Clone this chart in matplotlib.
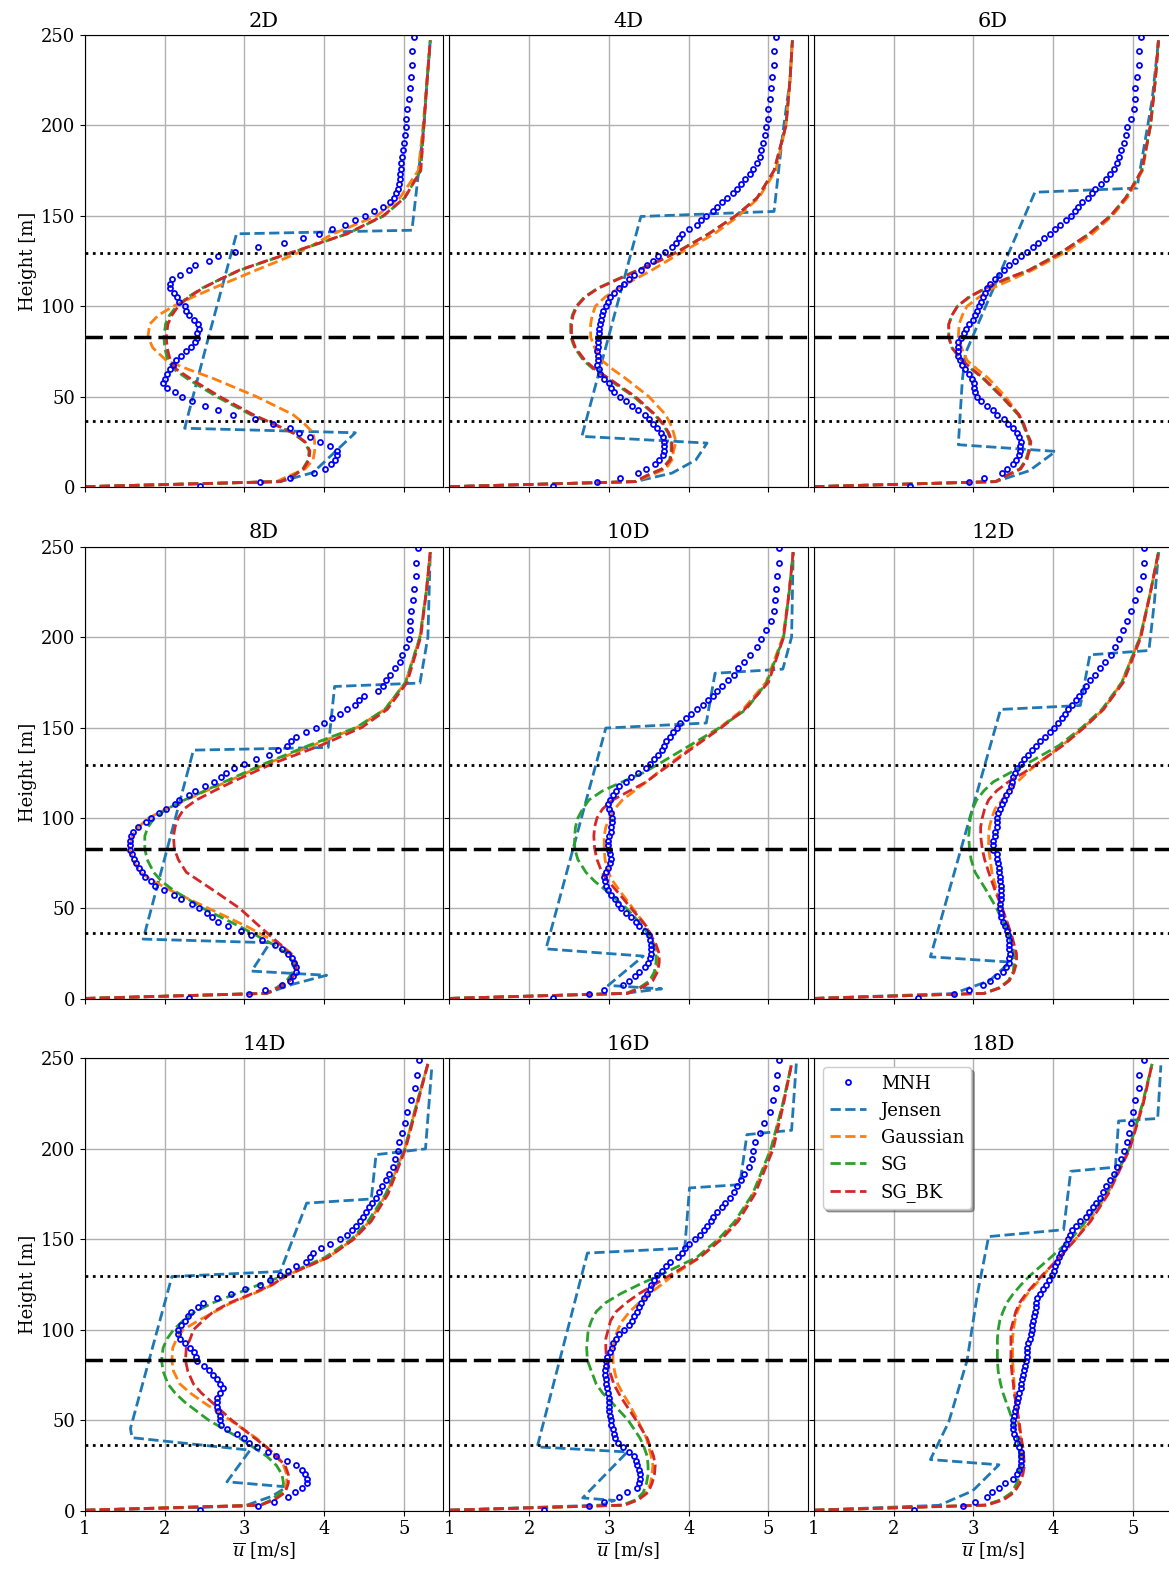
import matplotlib

matplotlib.use("Agg")

import matplotlib.pyplot as plt

plt.rcParams["font.family"] = "DejaVu Serif"
plt.rcParams["mathtext.fontset"] = "dejavuserif"

HUB_HEIGHT = 83.0
ROTOR_BOTTOM = 36.5
ROTOR_TOP = 129.5

TITLES = ["2D", "4D", "6D", "8D", "10D", "12D", "14D", "16D", "18D"]

# heights of the MNH (LES) points
MNH_Z = [
    0.3, 2.5, 5.0, 7.5, 10.0, 12.5, 15.0, 17.5, 20.0, 22.5,
    25.0, 27.5, 30.0, 32.5, 35.0, 37.5, 40.0, 42.5, 45.0, 47.5,
    50.0, 52.5, 55.0, 57.5, 60.0, 62.5, 65.0, 67.5, 70.0, 72.5,
    75.0, 77.5, 80.0, 82.5, 85.0, 87.5, 90.0, 92.5, 95.0, 97.5,
    100.0, 102.5, 105.0, 107.5, 110.0, 112.5, 115.0, 117.5, 120.0, 122.5,
    125.0, 127.5, 130.0, 132.5, 135.0, 137.5, 140.0, 142.5, 145.0, 147.5,
    150.0, 152.5, 155.0, 157.5, 160.0, 162.5, 165.0, 167.6, 170.3, 173.1,
    176.1, 179.3, 182.7, 186.3, 190.2, 194.4, 198.9, 203.7, 208.9, 214.5,
    220.4, 226.8, 233.6, 241.0, 249.0,
]

# heights of the analytical model curves
MODEL_Z = [0.2, 3, 6, 10, 15, 20, 25, 30, 35, 40, 50, 60, 65, 70, 77, 83,
           90, 95, 100, 105, 110, 115, 120, 125, 130, 140, 150, 160, 175,
           200, 225, 247]

# ---- 2D
mnh_2d = [
    2.44, 3.20, 3.57, 3.87, 4.01, 4.09, 4.13, 4.16, 4.16, 4.07,
    3.95, 3.82, 3.69, 3.57, 3.36, 3.13, 2.86, 2.67, 2.50, 2.34,
    2.22, 2.13, 2.03, 1.98, 2.00, 2.03, 2.07, 2.10, 2.14, 2.21,
    2.27, 2.33, 2.38, 2.40, 2.41, 2.43, 2.42, 2.37, 2.30, 2.27,
    2.25, 2.18, 2.15, 2.11, 2.07, 2.07, 2.09, 2.19, 2.30, 2.38,
    2.55, 2.67, 2.88, 3.17, 3.49, 3.74, 3.93, 4.10, 4.26, 4.39,
    4.51, 4.62, 4.74, 4.82, 4.88, 4.90, 4.92, 4.94, 4.95, 4.95,
    4.96, 4.96, 4.97, 4.99, 5.00, 5.01, 5.02, 5.03, 5.04, 5.06,
    5.07, 5.09, 5.10, 5.10, 5.13,
]
gauss_2d = [1.0, 3.40, 3.55, 3.76, 3.86, 3.88, 3.88, 3.86, 3.75, 3.61, 3.15,
            2.61, 2.30, 2.02, 1.85, 1.79, 1.81, 1.92, 2.11, 2.35, 2.61, 2.88,
            3.15, 3.43, 3.70, 4.11, 4.66, 4.95, 5.18, 5.24, 5.29, 5.33]
sg_2d = [1.0, 3.45, 3.60, 3.73, 3.80, 3.81, 3.75, 3.60, 3.35, 3.08, 2.65,
         2.28, 2.12, 2.04, 2.00, 1.99, 2.01, 2.06, 2.15, 2.29, 2.47, 2.70,
         2.95, 3.28, 3.62, 4.29, 4.75, 5.01, 5.21, 5.25, 5.29, 5.33]
sgbk_2d = [1.0, 3.45, 3.61, 3.74, 3.81, 3.82, 3.76, 3.61, 3.36, 3.11, 2.69,
           2.32, 2.15, 2.07, 2.03, 2.02, 2.04, 2.09, 2.17, 2.30, 2.48, 2.70,
           2.94, 3.27, 3.61, 4.28, 4.74, 5.01, 5.21, 5.25, 5.29, 5.33]
jen_u_2d = [1.0, 3.45, 3.86, 4.39, 2.25, 2.55, 2.82, 2.90, 5.10, 5.18, 5.25, 5.29, 5.33]
jen_z_2d = [0.2, 3, 8, 30, 32.5, 83, 127, 140, 142, 173, 200, 225, 247]

# ---- 4D
mnh_4d = [
    2.30, 2.85, 3.14, 3.36, 3.47, 3.58, 3.63, 3.68, 3.69, 3.69,
    3.69, 3.68, 3.65, 3.60, 3.55, 3.50, 3.45, 3.37, 3.29, 3.21,
    3.14, 3.06, 3.03, 3.00, 2.94, 2.89, 2.87, 2.85, 2.86, 2.86,
    2.85, 2.86, 2.86, 2.86, 2.87, 2.88, 2.89, 2.90, 2.91, 2.93,
    2.96, 2.99, 3.01, 3.06, 3.13, 3.19, 3.25, 3.31, 3.40, 3.48,
    3.55, 3.62, 3.70, 3.79, 3.84, 3.88, 3.91, 4.00, 4.10, 4.15,
    4.22, 4.30, 4.36, 4.42, 4.48, 4.55, 4.60, 4.65, 4.71, 4.77,
    4.81, 4.86, 4.89, 4.91, 4.93, 4.96, 4.97, 4.99, 5.00, 5.02,
    5.03, 5.05, 5.07, 5.07, 5.09,
]
gauss_4d = [1.0, 3.33, 3.50, 3.71, 3.79, 3.81, 3.84, 3.81, 3.77, 3.71, 3.50,
            3.21, 3.05, 2.91, 2.82, 2.77, 2.77, 2.79, 2.83, 2.95, 3.12, 3.33,
            3.54, 3.73, 3.92, 4.32, 4.63, 4.88, 5.09, 5.22, 5.27, 5.30]
sg_4d = [1.0, 3.33, 3.46, 3.66, 3.76, 3.78, 3.78, 3.74, 3.67, 3.57, 3.31,
         2.98, 2.81, 2.68, 2.57, 2.52, 2.52, 2.54, 2.59, 2.69, 2.86, 3.11,
         3.36, 3.62, 3.85, 4.25, 4.59, 4.86, 5.07, 5.22, 5.27, 5.30]
sgbk_4d = [1.0, 3.33, 3.46, 3.67, 3.77, 3.79, 3.79, 3.75, 3.68, 3.58, 3.33,
           3.00, 2.83, 2.70, 2.58, 2.53, 2.53, 2.55, 2.60, 2.70, 2.87, 3.12,
           3.37, 3.63, 3.86, 4.25, 4.59, 4.86, 5.07, 5.22, 5.27, 5.30]
jen_u_4d = [1.0, 3.33, 3.79, 4.09, 4.23, 2.66, 3.40, 5.07, 5.18, 5.27, 5.30]
jen_z_4d = [0.2, 3, 7.7, 15, 24.3, 28, 149.6, 152.4, 195.7, 225, 247]

# ---- 6D
mnh_6d = [
    2.20, 2.94, 3.13, 3.36, 3.42, 3.49, 3.53, 3.57, 3.58, 3.58,
    3.59, 3.57, 3.54, 3.50, 3.43, 3.38, 3.30, 3.24, 3.17, 3.10,
    3.05, 3.02, 3.01, 3.01, 2.98, 2.94, 2.89, 2.85, 2.83, 2.81,
    2.80, 2.80, 2.81, 2.84, 2.88, 2.91, 2.95, 2.99, 3.02, 3.05,
    3.07, 3.10, 3.12, 3.14, 3.17, 3.21, 3.27, 3.32, 3.38, 3.45,
    3.52, 3.59, 3.67, 3.75, 3.81, 3.89, 3.96, 4.02, 4.09, 4.16,
    4.22, 4.27, 4.31, 4.36, 4.43, 4.49, 4.53, 4.60, 4.66, 4.71,
    4.76, 4.80, 4.82, 4.85, 4.89, 4.91, 4.93, 4.97, 5.01, 5.02,
    5.03, 5.05, 5.07, 5.08, 5.10,
]
gauss_6d = [1.0, 3.28, 3.40, 3.59, 3.65, 3.70, 3.70, 3.67, 3.62, 3.57, 3.40,
            3.19, 3.05, 2.92, 2.85, 2.81, 2.82, 2.86, 2.92, 3.07, 3.24, 3.49,
            3.74, 3.95, 4.16, 4.49, 4.74, 4.93, 5.12, 5.22, 5.28, 5.32]
sg_6d = [1.0, 3.28, 3.40, 3.58, 3.66, 3.69, 3.71, 3.66, 3.62, 3.56, 3.35,
         3.12, 2.98, 2.85, 2.73, 2.69, 2.69, 2.73, 2.80, 2.95, 3.16, 3.41,
         3.70, 3.91, 4.11, 4.45, 4.72, 4.91, 5.11, 5.22, 5.28, 5.32]
sgbk_6d = [1.0, 3.28, 3.40, 3.59, 3.67, 3.70, 3.72, 3.67, 3.63, 3.57, 3.36,
           3.13, 2.99, 2.86, 2.73, 2.69, 2.69, 2.73, 2.80, 2.94, 3.15, 3.40,
           3.70, 3.91, 4.11, 4.45, 4.72, 4.91, 5.11, 5.22, 5.28, 5.32]
jen_u_6d = [1.0, 3.28, 3.70, 4.03, 2.81, 2.86, 2.90, 3.77, 5.05, 5.24, 5.32]
jen_z_6d = [0.2, 3, 9, 19.7, 23.4, 59, 74, 163, 165.3, 214, 247]

# ---- 8D
mnh_8d = [
    2.30, 3.06, 3.26, 3.47, 3.57, 3.61, 3.65, 3.65, 3.62, 3.60,
    3.54, 3.47, 3.38, 3.22, 3.08, 2.96, 2.79, 2.67, 2.59, 2.53,
    2.43, 2.34, 2.21, 2.11, 1.99, 1.88, 1.83, 1.75, 1.71, 1.68,
    1.64, 1.61, 1.59, 1.56, 1.56, 1.56, 1.58, 1.60, 1.67, 1.76,
    1.83, 1.93, 2.02, 2.13, 2.18, 2.30, 2.38, 2.50, 2.62, 2.70,
    2.77, 2.87, 2.99, 3.15, 3.31, 3.42, 3.53, 3.58, 3.65, 3.77,
    3.90, 4.00, 4.10, 4.20, 4.28, 4.39, 4.44, 4.50, 4.68, 4.74,
    4.78, 4.82, 4.89, 4.95, 4.98, 5.03, 5.06, 5.08, 5.08, 5.09,
    5.11, 5.13, 5.15, 5.15, 5.17,
]
gauss_8d = [1.0, 3.28, 3.40, 3.55, 3.63, 3.63, 3.59, 3.45, 3.24, 3.03, 2.55,
            2.07, 1.86, 1.69, 1.60, 1.56, 1.59, 1.67, 1.80, 2.02, 2.27, 2.52,
            2.78, 3.03, 3.28, 3.85, 4.41, 4.76, 5.02, 5.20, 5.28, 5.33]
sg_8d = [1.0, 3.28, 3.40, 3.53, 3.61, 3.61, 3.53, 3.36, 3.15, 2.94, 2.48,
         2.11, 1.96, 1.86, 1.78, 1.75, 1.75, 1.79, 1.87, 2.03, 2.25, 2.50,
         2.75, 3.00, 3.25, 3.80, 4.40, 4.76, 5.02, 5.20, 5.28, 5.33]
sgbk_8d = [1.0, 3.28, 3.42, 3.57, 3.65, 3.65, 3.57, 3.45, 3.32, 3.19, 2.94,
           2.61, 2.44, 2.27, 2.17, 2.12, 2.11, 2.13, 2.17, 2.24, 2.40, 2.62,
           2.85, 3.10, 3.35, 3.95, 4.47, 4.79, 5.04, 5.21, 5.28, 5.33]
jen_u_8d = [1.0, 3.28, 3.60, 4.03, 3.09, 3.32, 1.73, 2.36, 4.05, 4.13, 5.20, 5.30, 5.33]
jen_z_8d = [0.2, 3, 8, 13, 15.3, 31, 33, 137.5, 139, 172.7, 174.6, 200, 247]

# ---- 10D
mnh_10d = [
    2.30, 2.75, 2.94, 3.17, 3.25, 3.33, 3.38, 3.45, 3.49, 3.52,
    3.53, 3.53, 3.53, 3.52, 3.50, 3.45, 3.38, 3.34, 3.28, 3.21,
    3.15, 3.11, 3.07, 3.03, 2.99, 2.96, 2.95, 2.94, 2.96, 2.99,
    3.01, 3.02, 3.01, 3.00, 2.99, 2.99, 3.00, 3.02, 3.03, 3.04,
    3.04, 3.03, 3.00, 2.99, 3.01, 3.05, 3.09, 3.13, 3.21, 3.28,
    3.36, 3.47, 3.52, 3.57, 3.62, 3.66, 3.69, 3.72, 3.76, 3.80,
    3.85, 3.89, 3.97, 4.03, 4.10, 4.18, 4.24, 4.30, 4.36, 4.42,
    4.49, 4.57, 4.62, 4.69, 4.77, 4.85, 4.91, 4.97, 5.03, 5.07,
    5.08, 5.09, 5.11, 5.13, 5.13,
]
gauss_10d = [1.0, 3.22, 3.38, 3.53, 3.59, 3.61, 3.61, 3.57, 3.52, 3.47, 3.30,
             3.13, 3.05, 2.99, 2.95, 2.94, 2.94, 2.96, 3.01, 3.07, 3.17, 3.32,
             3.47, 3.61, 3.76, 4.07, 4.39, 4.68, 4.97, 5.18, 5.26, 5.31]
sg_10d = [1.0, 3.22, 3.38, 3.51, 3.57, 3.59, 3.59, 3.55, 3.50, 3.43, 3.22,
          2.96, 2.82, 2.71, 2.61, 2.57, 2.57, 2.58, 2.61, 2.67, 2.75, 2.92,
          3.17, 3.43, 3.63, 4.01, 4.39, 4.72, 4.98, 5.19, 5.26, 5.31]
sgbk_10d = [1.0, 3.24, 3.40, 3.55, 3.61, 3.63, 3.63, 3.59, 3.53, 3.47, 3.28,
            3.09, 2.99, 2.91, 2.85, 2.82, 2.81, 2.82, 2.85, 2.92, 3.05, 3.26,
            3.47, 3.62, 3.78, 4.09, 4.41, 4.70, 5.00, 5.19, 5.26, 5.31]
jen_u_10d = [1.0, 3.19, 3.66, 2.99, 3.43, 2.21, 2.96, 4.22, 4.33, 5.18, 5.29, 5.31]
jen_z_10d = [0.2, 3, 5.5, 7.4, 23.6, 27.6, 149.7, 152.5, 180, 182.3, 200, 247]

# ---- 12D
mnh_12d = [
    2.30, 2.75, 2.94, 3.12, 3.21, 3.29, 3.37, 3.41, 3.44, 3.45,
    3.46, 3.45, 3.45, 3.44, 3.43, 3.42, 3.39, 3.37, 3.35, 3.34,
    3.33, 3.33, 3.34, 3.34, 3.34, 3.34, 3.33, 3.33, 3.32, 3.32,
    3.31, 3.30, 3.29, 3.25, 3.24, 3.25, 3.27, 3.27, 3.29, 3.29,
    3.30, 3.31, 3.33, 3.36, 3.38, 3.41, 3.44, 3.47, 3.48, 3.50,
    3.52, 3.55, 3.59, 3.63, 3.68, 3.73, 3.79, 3.84, 3.90, 3.96,
    4.01, 4.06, 4.11, 4.15, 4.19, 4.24, 4.28, 4.32, 4.37, 4.41,
    4.46, 4.52, 4.59, 4.65, 4.72, 4.78, 4.82, 4.87, 4.92, 4.97,
    5.03, 5.08, 5.13, 5.14, 5.14,
]
gauss_12d = [1.0, 3.13, 3.32, 3.44, 3.50, 3.52, 3.52, 3.50, 3.47, 3.44, 3.36,
             3.29, 3.26, 3.23, 3.21, 3.19, 3.19, 3.20, 3.23, 3.27, 3.36, 3.44,
             3.55, 3.67, 3.80, 4.11, 4.38, 4.63, 4.86, 5.09, 5.22, 5.32]
sg_12d = [1.0, 3.13, 3.32, 3.44, 3.50, 3.51, 3.50, 3.48, 3.44, 3.40, 3.29,
          3.16, 3.09, 3.02, 2.97, 2.95, 2.94, 2.95, 2.96, 2.99, 3.04, 3.13,
          3.25, 3.46, 3.67, 4.07, 4.36, 4.61, 4.86, 5.09, 5.22, 5.32]
sgbk_12d = [1.0, 3.14, 3.33, 3.45, 3.51, 3.54, 3.54, 3.51, 3.48, 3.44, 3.36,
            3.27, 3.23, 3.19, 3.14, 3.11, 3.09, 3.09, 3.11, 3.14, 3.19, 3.29,
            3.44, 3.63, 3.80, 4.12, 4.39, 4.63, 4.88, 5.10, 5.22, 5.32]
jen_u_12d = [1.0, 2.75, 3.20, 3.46, 2.46, 3.34, 4.34, 4.46, 5.20, 5.27, 5.32]
jen_z_12d = [0.2, 2.9, 10, 20.3, 23.2, 160, 162.2, 190.2, 192.6, 220, 247]

# ---- 14D
mnh_14d = [
    2.44, 3.17, 3.37, 3.55, 3.63, 3.72, 3.78, 3.79, 3.76, 3.72,
    3.65, 3.53, 3.40, 3.30, 3.16, 3.06, 2.99, 2.90, 2.78, 2.71,
    2.69, 2.69, 2.67, 2.66, 2.65, 2.65, 2.69, 2.73, 2.69, 2.65,
    2.61, 2.56, 2.49, 2.40, 2.39, 2.37, 2.32, 2.25, 2.19, 2.17,
    2.17, 2.21, 2.25, 2.29, 2.33, 2.42, 2.48, 2.65, 2.83, 3.01,
    3.20, 3.32, 3.45, 3.55, 3.65, 3.77, 3.82, 3.86, 3.96, 4.07,
    4.20, 4.28, 4.35, 4.40, 4.45, 4.49, 4.52, 4.56, 4.60, 4.65,
    4.69, 4.73, 4.77, 4.81, 4.86, 4.89, 4.92, 4.94, 4.97, 5.01,
    5.04, 5.09, 5.14, 5.16, 5.19,
]
gauss_14d = [1.0, 3.20, 3.36, 3.49, 3.53, 3.53, 3.49, 3.40, 3.28, 3.15, 2.82,
             2.48, 2.32, 2.19, 2.11, 2.09, 2.10, 2.15, 2.23, 2.42, 2.63, 2.84,
             3.12, 3.36, 3.53, 4.05, 4.36, 4.57, 4.78, 5.01, 5.16, 5.30]
sg_14d = [1.0, 3.20, 3.34, 3.45, 3.49, 3.47, 3.40, 3.28, 3.11, 2.94, 2.55,
          2.25, 2.13, 2.04, 1.98, 1.96, 1.98, 2.03, 2.11, 2.23, 2.38, 2.61,
          2.90, 3.19, 3.50, 4.01, 4.34, 4.55, 4.77, 5.01, 5.16, 5.30]
sgbk_14d = [1.0, 3.20, 3.38, 3.51, 3.55, 3.55, 3.51, 3.40, 3.28, 3.13, 2.84,
            2.59, 2.46, 2.36, 2.29, 2.26, 2.27, 2.32, 2.36, 2.48, 2.61, 2.82,
            3.10, 3.35, 3.53, 4.05, 4.37, 4.59, 4.80, 5.02, 5.17, 5.30]
jen_u_14d = [1.0, 2.99, 3.35, 3.53, 2.78, 3.07, 1.59, 1.57, 2.09, 3.45, 3.78,
             4.59, 4.65, 5.27, 5.35]
jen_z_14d = [0.2, 2.4, 8, 13.1, 15.9, 33.4, 40.3, 45.4, 129.4, 132.2, 170,
             172.3, 196.8, 200, 245.7]

# ---- 16D
mnh_16d = [
    2.19, 2.75, 2.94, 3.13, 3.23, 3.35, 3.38, 3.39, 3.39, 3.38,
    3.35, 3.34, 3.31, 3.25, 3.17, 3.11, 3.08, 3.06, 3.05, 3.03,
    3.02, 3.01, 3.00, 3.00, 3.00, 3.00, 2.99, 2.98, 2.96, 2.96,
    2.95, 2.95, 2.96, 2.96, 2.98, 3.01, 3.04, 3.05, 3.09, 3.12,
    3.19, 3.25, 3.29, 3.32, 3.35, 3.38, 3.40, 3.44, 3.48, 3.51,
    3.53, 3.56, 3.60, 3.67, 3.72, 3.76, 3.87, 3.91, 3.95, 4.00,
    4.08, 4.14, 4.19, 4.23, 4.28, 4.31, 4.36, 4.42, 4.46, 4.52,
    4.57, 4.60, 4.65, 4.69, 4.75, 4.79, 4.81, 4.83, 4.89, 4.95,
    5.02, 5.06, 5.09, 5.11, 5.13,
]
gauss_16d = [1.0, 3.17, 3.36, 3.47, 3.52, 3.54, 3.55, 3.53, 3.50, 3.47, 3.36,
             3.24, 3.17, 3.11, 3.07, 3.05, 3.05, 3.07, 3.11, 3.17, 3.26, 3.38,
             3.51, 3.66, 3.80, 4.14, 4.39, 4.60, 4.81, 5.04, 5.18, 5.29]
sg_16d = [1.0, 3.17, 3.34, 3.43, 3.47, 3.49, 3.49, 3.48, 3.44, 3.39, 3.24,
          3.03, 2.92, 2.84, 2.78, 2.73, 2.72, 2.73, 2.74, 2.78, 2.84, 2.96,
          3.15, 3.38, 3.63, 4.10, 4.37, 4.58, 4.80, 5.03, 5.18, 5.29]
sgbk_16d = [1.0, 3.20, 3.37, 3.49, 3.54, 3.57, 3.58, 3.56, 3.52, 3.48, 3.34,
            3.19, 3.12, 3.06, 3.01, 2.97, 2.96, 2.96, 2.99, 3.02, 3.09, 3.22,
            3.38, 3.57, 3.76, 4.14, 4.41, 4.62, 4.83, 5.06, 5.19, 5.29]
jen_u_16d = [1.0, 2.90, 3.07, 2.67, 3.23, 2.10, 2.73, 3.95, 4.01, 4.64, 4.73,
             5.29, 5.35]
jen_z_16d = [0.2, 3, 5.6, 7.0, 32.4, 35.2, 142.4, 145.1, 178.4, 180.2, 207.9,
             210.3, 247.6]

# ---- 18D
mnh_18d = [
    2.25, 2.87, 3.02, 3.17, 3.23, 3.32, 3.40, 3.49, 3.54, 3.57,
    3.59, 3.60, 3.60, 3.59, 3.57, 3.55, 3.53, 3.51, 3.49, 3.49,
    3.50, 3.51, 3.52, 3.53, 3.55, 3.56, 3.57, 3.59, 3.60, 3.61,
    3.62, 3.63, 3.65, 3.66, 3.67, 3.67, 3.67, 3.69, 3.71, 3.72,
    3.73, 3.74, 3.75, 3.76, 3.77, 3.78, 3.79, 3.80, 3.83, 3.87,
    3.91, 3.95, 3.98, 4.01, 4.02, 4.05, 4.07, 4.10, 4.13, 4.16,
    4.19, 4.21, 4.23, 4.28, 4.34, 4.41, 4.45, 4.50, 4.54, 4.59,
    4.63, 4.66, 4.71, 4.76, 4.80, 4.85, 4.89, 4.92, 4.95, 4.98,
    5.00, 5.03, 5.07, 5.08, 5.14,
]
gauss_18d = [1.0, 3.15, 3.36, 3.49, 3.55, 3.59, 3.60, 3.60, 3.60, 3.59, 3.56,
             3.54, 3.52, 3.51, 3.50, 3.49, 3.49, 3.49, 3.50, 3.52, 3.55, 3.60,
             3.68, 3.78, 3.87, 4.08, 4.28, 4.45, 4.68, 4.95, 5.12, 5.24]
sg_18d = [1.0, 3.14, 3.35, 3.48, 3.54, 3.57, 3.58, 3.58, 3.57, 3.55, 3.49,
          3.41, 3.37, 3.34, 3.31, 3.30, 3.30, 3.30, 3.31, 3.33, 3.37, 3.42,
          3.50, 3.60, 3.71, 3.97, 4.22, 4.41, 4.66, 4.95, 5.12, 5.24]
sgbk_18d = [1.0, 3.17, 3.38, 3.51, 3.58, 3.62, 3.64, 3.63, 3.62, 3.60, 3.57,
            3.53, 3.51, 3.50, 3.48, 3.47, 3.47, 3.47, 3.47, 3.50, 3.53, 3.58,
            3.66, 3.76, 3.86, 4.08, 4.28, 4.47, 4.69, 4.96, 5.13, 5.24]
jen_u_18d = [1.0, 2.57, 2.99, 3.32, 2.46, 2.69, 2.92, 3.05, 3.19, 4.13, 4.22,
             4.78, 4.82, 5.31, 5.35]
jen_z_18d = [0.2, 2.9, 10.9, 25.3, 28.2, 49, 83, 120, 151.5, 155.3, 187.6,
             189.9, 215.4, 216.8, 246.2]

PANELS = [
    (mnh_2d, jen_u_2d, jen_z_2d, gauss_2d, sg_2d, sgbk_2d),
    (mnh_4d, jen_u_4d, jen_z_4d, gauss_4d, sg_4d, sgbk_4d),
    (mnh_6d, jen_u_6d, jen_z_6d, gauss_6d, sg_6d, sgbk_6d),
    (mnh_8d, jen_u_8d, jen_z_8d, gauss_8d, sg_8d, sgbk_8d),
    (mnh_10d, jen_u_10d, jen_z_10d, gauss_10d, sg_10d, sgbk_10d),
    (mnh_12d, jen_u_12d, jen_z_12d, gauss_12d, sg_12d, sgbk_12d),
    (mnh_14d, jen_u_14d, jen_z_14d, gauss_14d, sg_14d, sgbk_14d),
    (mnh_16d, jen_u_16d, jen_z_16d, gauss_16d, sg_16d, sgbk_16d),
    (mnh_18d, jen_u_18d, jen_z_18d, gauss_18d, sg_18d, sgbk_18d),
]


def draw_panel(ax, title, panel):
    mnh, jen_u, jen_z, gauss, sg, sgbk = panel
    ax.grid(True, color="#b0b0b0", linewidth=1.0)
    h_jen, = ax.plot(jen_u, jen_z, "--", color="tab:blue", lw=2, label="Jensen")
    h_gau, = ax.plot(gauss, MODEL_Z, "--", color="tab:orange", lw=2, label="Gaussian")
    h_sg, = ax.plot(sg, MODEL_Z, "--", color="tab:green", lw=2, label="SG")
    h_bk, = ax.plot(sgbk, MODEL_Z, "--", color="tab:red", lw=2, label="SG_BK")
    h_mnh, = ax.plot(mnh, MNH_Z, "o", ms=3.6, mfc="none", mec="b", mew=1.3,
                     ls="none", label="MNH")
    ax.axhline(HUB_HEIGHT, color="k", ls=(0, (5, 2)), lw=2.5)
    ax.axhline(ROTOR_BOTTOM, color="k", ls=":", lw=2)
    ax.axhline(ROTOR_TOP, color="k", ls=":", lw=2)
    ax.set_title(title, fontsize=15)
    return [h_mnh, h_jen, h_gau, h_sg, h_bk]


def main() -> None:
    fig, axes = plt.subplots(3, 3, figsize=(11.69, 15.73), dpi=100,
                             sharex=True, sharey=True)
    fig.subplots_adjust(left=0.0727, right=1.0026, bottom=0.0397,
                        top=0.9778, wspace=0.018, hspace=0.132)

    handles = None
    for i, ax in enumerate(axes.flat):
        handles = draw_panel(ax, TITLES[i], PANELS[i])
        ax.set_xlim(1, 5.49)
        ax.set_ylim(0, 250)
        ax.set_xticks([1, 2, 3, 4, 5])
        ax.set_yticks([0, 50, 100, 150, 200, 250])
        ax.tick_params(labelsize=13)

    for r in range(3):
        axes[r, 0].set_ylabel("Height [m]", fontsize=13, labelpad=3)
        axes[2, r].set_xlabel(r"$\overline{u}$ [m/s]", fontsize=13, labelpad=2)

    axes[2, 2].legend(handles=handles, loc="upper left", fontsize=13,
                      fancybox=True, shadow=True)

    fig.savefig("out.png", dpi=100)
    plt.close(fig)


if __name__ == "__main__":
    main()
